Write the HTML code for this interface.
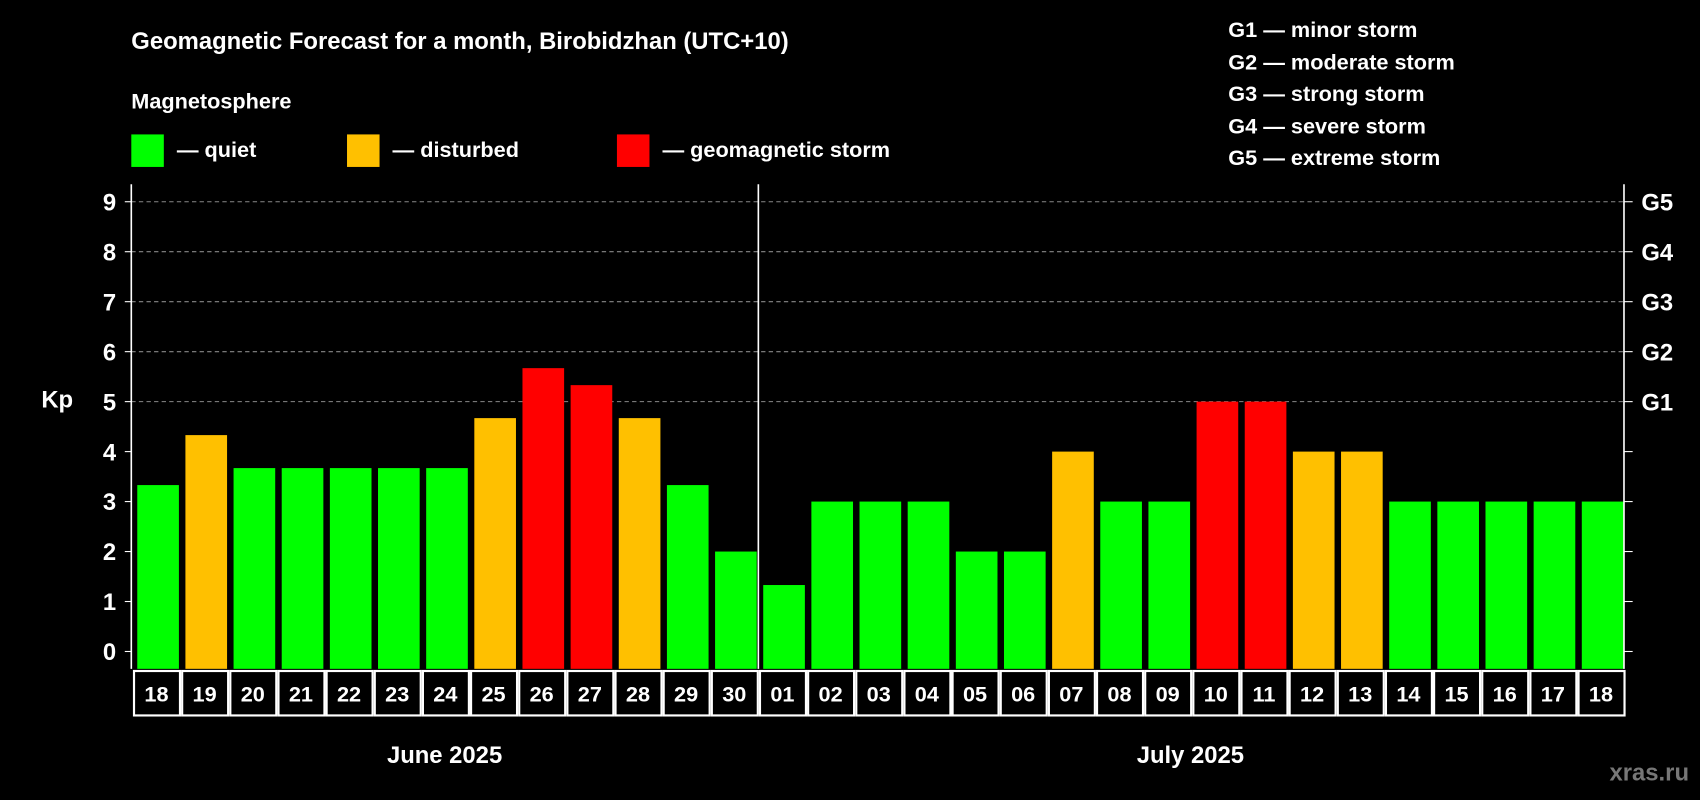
<!DOCTYPE html>
<html><head><meta charset="utf-8"><style>html,body{margin:0;padding:0;background:#000;width:1700px;height:800px;overflow:hidden}svg{display:block}text{font-family:"Liberation Sans",Arial,sans-serif;font-weight:bold;fill:#fff}</style></head>
<body>
<svg id="chart" width="1700" height="800" viewBox="0 0 1568 738" xmlns="http://www.w3.org/2000/svg">
<rect width="1568" height="738" fill="#000"/>
<text x="121" y="45" font-size="22">Geomagnetic Forecast for a month, Birobidzhan (UTC+10)</text>
<text x="121" y="100" font-size="20">Magnetosphere</text>
<g><rect x="121" y="124" width="30" height="30" fill="#00ff00"/><text x="163" y="145" font-size="20">— quiet</text></g>
<g><rect x="320" y="124" width="30" height="30" fill="#ffc000"/><text x="362" y="145" font-size="20">— disturbed</text></g>
<g><rect x="569" y="124" width="30" height="30" fill="#ff0000"/><text x="611" y="145" font-size="20">— geomagnetic storm</text></g>
<g font-size="20">
<text x="1133" y="34" font-size="20">G1 — minor storm</text>
<text x="1133" y="64" font-size="20">G2 — moderate storm</text>
<text x="1133" y="93" font-size="20">G3 — strong storm</text>
<text x="1133" y="123" font-size="20">G4 — severe storm</text>
<text x="1133" y="152" font-size="20">G5 — extreme storm</text>
</g>
<text x="38" y="376" font-size="22">Kp</text>
<g id="grid"></g><g id="bars"></g><g id="axes"></g><g id="dates"></g>
<text x="410" y="704" font-size="22" text-anchor="middle">June 2025</text>
<text x="1098" y="704" font-size="22" text-anchor="middle">July 2025</text>
<text x="1558" y="720" font-size="22" text-anchor="end" style="fill:#777">xras.ru</text>
</svg>
<script>
const days=["18","19","20","21","22","23","24","25","26","27","28","29","30","01","02","03","04","05","06","07","08","09","10","11","12","13","14","15","16","17","18"];
const kpValues=[3.33,4.33,3.67,3.67,3.67,3.67,3.67,4.67,5.67,5.33,4.67,3.33,2,1.33,3,3,3,2,2,4,3,3,5,5,4,4,3,3,3,3,3];
const yTicks=[0,1,2,3,4,5,6,7,8,9];
const gLabels=["","","","","","G1","G2","G3","G4","G5"];
const NS="http://www.w3.org/2000/svg";
const L=121,R=1498,T=170,B=617,Y0=601,U=46.1;
const cw=(R-L)/days.length;
const y=v=>Y0-v*U, x=i=>L+i*cw;
function mk(tag,at,parent){const e=document.createElementNS(NS,tag);for(const k in at)e.setAttribute(k,at[k]);document.getElementById(parent).appendChild(e);return e;}
yTicks.forEach(t=>{
 if(t>=5){const g=mk('line',{x1:L,x2:R,y1:y(t),y2:y(t),stroke:'#888','stroke-dasharray':'4,3','stroke-width':1},'grid');
 
 }
 const a=mk('line',{x1:L-6,x2:L,y1:y(t),y2:y(t),stroke:'#fff'},'axes');
 
 
 const b=mk('line',{x1:R,x2:R+8,y1:y(t),y2:y(t),stroke:'#fff'},'axes');
 
 
 const lt=mk('text',{x:L-14,y:y(t)+8,'font-size':22,'text-anchor':'end'},'axes');lt.textContent=t;
 
 
 if(gLabels[t]){const gt=mk('text',{x:R+16,y:y(t)+8,'font-size':22},'axes');gt.textContent=gLabels[t];
 
 }
});
kpValues.forEach((v,i)=>{
 const c=v>=5?'#ff0000':(v>=4?'#ffc000':'#00ff00');
 const r=mk('rect',{x:x(i)+5.5,y:y(v),width:cw-6,height:B-y(v),fill:c},'bars');
 
 
 const d=mk('rect',{x:x(i)+2.5,y:B+2,width:cw-2,height:41,fill:'none',stroke:'#fff','stroke-width':2},'dates');
 
 
 const t=mk('text',{x:x(i)+cw/2+1,y:B+30,'font-size':20,'text-anchor':'middle'},'dates');t.textContent=days[i];
 
 
});
[[L,T,L,B],[R,T,R,B],[x(13)+1,T,x(13)+1,B]].forEach((p,k)=>{
 const l=mk('line',{x1:p[0],y1:p[1],x2:p[2],y2:p[3],stroke:'#fff','stroke-width':1.5},'axes');
 
 
});
</script>
</body></html>
